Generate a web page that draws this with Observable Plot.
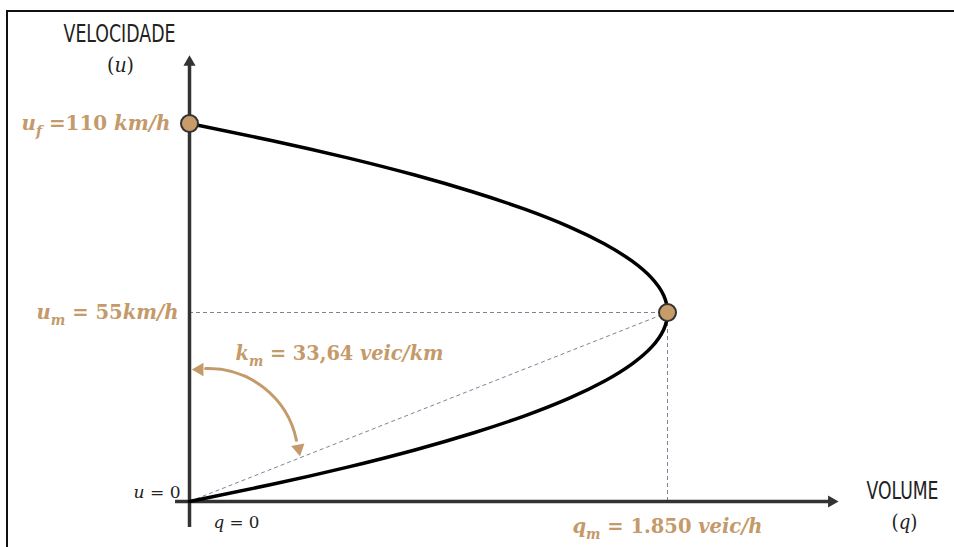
<!DOCTYPE html>
<html><head><meta charset="utf-8">
<script src="https://cdn.jsdelivr.net/npm/d3@7"></script>
<script src="https://cdn.jsdelivr.net/npm/@observablehq/plot@0.6"></script>
<style>
body{margin:0;background:#fff;}
#wrap{position:relative;width:954px;height:547px;overflow:hidden;background:#fff;}
#frame{position:absolute;left:6px;top:10px;width:1200px;height:800px;border:2px solid #111;box-sizing:border-box;}
#chart{position:absolute;left:0;top:0;}
</style></head><body>
<div id="wrap"><div id="frame"></div><div id="chart"></div></div>
<script>
// ---- data ----
const speeds  = [0,5,10,15,20,25,30,35,40,45,50,55,60,65,70,75,80,85,90,95,100,105,110]; // u (km/h)
const volumes = [0,321,612,872,1101,1300,1468,1605,1712,1789,1835,1850,1835,1789,1712,1605,1468,1300,1101,872,612,321,0]; // q (veic/h)
const freeSpeed = 110;      // u_f
const optSpeed = 55;        // u_m
const maxVolume = 1850;     // q_m
const axisLabels = ["VELOCIDADE", "(u)", "VOLUME", "(q)"];
const keyLabels = ["u_f =110 km/h", "u_m = 55km/h", "k_m = 33,64 veic/km", "q_m = 1.850 veic/h"];
const zeroLabels = ["u = 0", "q = 0"];

// ---- styles ----
const TAN = "#c49a6a", AXIS = "#333", DASH = "#7b8498";
const labelWidths = {
  "VELOCIDADE":112, "(u)":27, "VOLUME":72, "(q)":26,
  "u_f =110 km/h":149, "u_m = 55km/h":142, "k_m = 33,64 veic/km":208, "q_m = 1.850 veic/h":190,
  "u = 0":47, "q = 0":46
};
const tallLabels = new Set(["VELOCIDADE", "VOLUME"]);
const mathLabels = new Set(["(u)", "(q)", ...keyLabels, ...zeroLabels]);

const curve = speeds.map((u, i) => ({u, q: volumes[i]}));
const keyPoints = [{q: 0, u: freeSpeed}, {q: maxVolume, u: optSpeed}];

// axis extents & annotation anchors (data units)
const yAxisExtent = {y1: -7.6, y2: 127.8};
const xAxisExtent = {x1: -54, x2: 2485};
const axisHeads = [{q: 0, u: 127.8, rot: 0}, {q: 2485, u: 0, rot: 90}];
const bendArc = {x1: 62, y1: 38.7, x2: 414, y2: 17.8};
const bendHeads = [{q: 39, u: 38.4, rot: 270}, {q: 422, u: 15.4, rot: 169}];

const serifTan = {fill: TAN, fontFamily: "'DejaVu Serif', serif", fontWeight: "bold", fontSize: 20};
const serifBlack = {fill: "#222", fontFamily: "'DejaVu Serif', serif"};
const narrow = {fill: "#222", fontFamily: "'DejaVu Sans Condensed', 'Liberation Sans Narrow', sans-serif", fontSize: 18};

const plot = Plot.plot({
  width: 954, height: 547, margin: 0,
  style: {background: "transparent", overflow: "visible"},
  x: {domain: [0, maxVolume], range: [189, 667], axis: null},
  y: {domain: [0, freeSpeed], range: [501, 123], axis: null},
  marks: [
    Plot.ruleY([optSpeed], {x1: 0, x2: maxVolume, stroke: DASH, strokeWidth: 1, strokeDasharray: "4,3"}),
    Plot.ruleX([maxVolume], {y1: 0, y2: optSpeed, stroke: DASH, strokeWidth: 1, strokeDasharray: "4,3"}),
    Plot.link([keyPoints[1]], {x1: 0, y1: 0, x2: "q", y2: "u", stroke: DASH, strokeWidth: 1, strokeDasharray: "4,3"}),
    Plot.ruleX([0], {...yAxisExtent, stroke: AXIS, strokeWidth: 3.5}),
    Plot.ruleY([0], {...xAxisExtent, stroke: AXIS, strokeWidth: 3.5}),
    Plot.dot(axisHeads, {x: "q", y: "u", rotate: "rot", symbol: "triangle", r: 4.5, fill: AXIS, stroke: "none"}),
    Plot.line(curve, {x: "q", y: "u", curve: "natural", stroke: "#000", strokeWidth: 3.5}),
    Plot.arrow([bendArc], {x1: "x1", y1: "y1", x2: "x2", y2: "y2", bend: 40, headLength: 0, stroke: TAN, strokeWidth: 3}),
    Plot.dot(bendHeads, {x: "q", y: "u", rotate: "rot", symbol: "triangle", r: 5, fill: TAN, stroke: "none"}),
    Plot.dot(keyPoints, {x: "q", y: "u", r: 8.5, fill: "#c89c68", stroke: "#333", strokeWidth: 2}),
    // axis titles
    Plot.text([axisLabels[0]], {x: 0, y: freeSpeed, dx: -70, dy: -90, text: d => d, textAnchor: "middle", ...narrow}),
    Plot.text([axisLabels[1]], {x: 0, y: freeSpeed, dx: -69, dy: -58, text: d => d, textAnchor: "middle", ...serifBlack, fontSize: 21}),
    Plot.text([axisLabels[2]], {x: maxVolume, y: 0, dx: 235, dy: -11, text: d => d, textAnchor: "middle", ...narrow}),
    Plot.text([axisLabels[3]], {x: maxVolume, y: 0, dx: 237, dy: 21, text: d => d, textAnchor: "middle", ...serifBlack, fontSize: 21}),
    // key labels
    Plot.text([keyLabels[0]], {x: 0, y: freeSpeed, dx: -19, dy: 0, text: d => d, textAnchor: "end", ...serifTan}),
    Plot.text([keyLabels[1]], {x: 0, y: optSpeed, dx: -11, dy: 0, text: d => d, textAnchor: "end", ...serifTan}),
    Plot.text([keyLabels[2]], {x: 0, y: optSpeed, dx: 46, dy: 41, text: d => d, textAnchor: "start", ...serifTan}),
    Plot.text([keyLabels[3]], {x: maxVolume, y: 0, dx: 0, dy: 25, text: d => d, textAnchor: "middle", ...serifTan}),
    // zero labels
    Plot.text([zeroLabels[0]], {x: 0, y: 0, dx: -9, dy: -9, text: d => d, textAnchor: "end", ...serifBlack, fontSize: 16}),
    Plot.text([zeroLabels[1]], {x: 0, y: 0, dx: 24, dy: 21, text: d => d, textAnchor: "start", ...serifBlack, fontSize: 16})
  ]
});

// math formatting: italic letters, upright digits/signs, subscripts
const NS = "http://www.w3.org/2000/svg";
function formatMath(t, s) {
  const tokens = [];
  for (let i = 0; i < s.length; i++) {
    let ch = s[i], sub = false;
    if (ch === "_" && i + 1 < s.length) { ch = s[++i]; sub = true; }
    const italic = /[A-Za-z\/]/.test(ch);
    const last = tokens[tokens.length - 1];
    if (last && last.italic === italic && last.sub === sub) last.text += ch;
    else tokens.push({text: ch, italic, sub});
  }
  t.textContent = "";
  let inSub = false;
  for (const tk of tokens) {
    const sp = document.createElementNS(NS, "tspan");
    sp.textContent = tk.text;
    sp.setAttribute("font-style", tk.italic ? "italic" : "normal");
    if (tk.sub && !inSub) sp.setAttribute("dy", "6");
    if (!tk.sub && inSub) sp.setAttribute("dy", "-6");
    if (tk.sub) sp.setAttribute("font-size", "14");
    inSub = tk.sub;
    t.appendChild(sp);
  }
}
plot.querySelectorAll("text").forEach(t => {
  const s = t.textContent;
  if (mathLabels.has(s)) formatMath(t, s);
  const w = labelWidths[s];
  if (w) { t.setAttribute("textLength", w); t.setAttribute("lengthAdjust", "spacingAndGlyphs"); }
  if (tallLabels.has(s)) {
    const tr = t.getAttribute("transform") || "";
    t.setAttribute("transform", tr + " scale(1,1.4)");
    t.setAttribute("font-weight", "500");
  }
});
document.getElementById("chart").appendChild(plot);
</script>
</body></html>
